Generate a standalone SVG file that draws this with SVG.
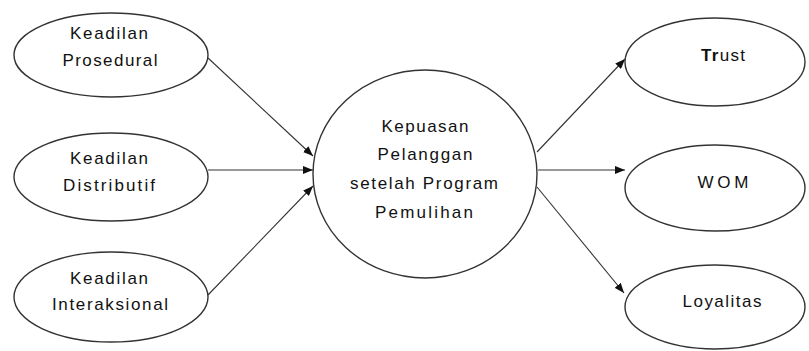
<svg xmlns="http://www.w3.org/2000/svg" width="809" height="351" viewBox="0 0 809 351">
<style>
.n{fill:#fff;stroke:#333;stroke-width:1.4}
.t{font-family:"Liberation Sans",Arial,sans-serif;font-size:17px;fill:#111;text-anchor:middle}
.c{stroke:#333;stroke-width:1.1;fill:none;marker-end:url(#ah)}
</style>
<defs>
<marker id="ah" viewBox="0 0 10 8" refX="10" refY="4" markerWidth="10" markerHeight="8" markerUnits="userSpaceOnUse" orient="auto">
<path d="M0,0 L10,4 L0,8 Z" fill="#111"/>
</marker>
</defs>
<rect width="809" height="351" fill="#fff"/>
<g id="connectors">
<line class="c" x1="208" y1="58" x2="313" y2="156"/>
<line class="c" x1="208" y1="170" x2="313" y2="170"/>
<line class="c" x1="208" y1="295" x2="313" y2="186"/>
<line class="c" x1="537" y1="152" x2="625" y2="59"/>
<line class="c" x1="538" y1="170" x2="625" y2="170"/>
<line class="c" x1="537" y1="187" x2="624" y2="293"/>
</g>
<g id="prosedural">
<ellipse class="n" cx="111" cy="55" rx="97" ry="42"/>
<text class="t" x="109" y="39" textLength="78" lengthAdjust="spacing">Keadilan</text>
<text class="t" x="110" y="66" textLength="95" lengthAdjust="spacing">Prosedural</text>
</g>
<g id="distributif">
<ellipse class="n" cx="111" cy="177" rx="97" ry="44"/>
<text class="t" x="109" y="164" textLength="78" lengthAdjust="spacing">Keadilan</text>
<text class="t" x="109" y="191" textLength="92" lengthAdjust="spacing">Distributif</text>
</g>
<g id="interaksional">
<ellipse class="n" cx="111" cy="297" rx="97" ry="45"/>
<text class="t" x="109" y="284" textLength="78" lengthAdjust="spacing">Keadilan</text>
<text class="t" x="110" y="310" textLength="116" lengthAdjust="spacing">Interaksional</text>
</g>
<g id="kepuasan">
<ellipse class="n" cx="425" cy="174" rx="112" ry="104"/>
<text class="t" x="425" y="132" textLength="87" lengthAdjust="spacing">Kepuasan</text>
<text class="t" x="425" y="160" textLength="95" lengthAdjust="spacing">Pelanggan</text>
<text class="t" x="424" y="189" textLength="148" lengthAdjust="spacing">setelah Program</text>
<text class="t" x="424" y="218" textLength="98" lengthAdjust="spacing">Pemulihan</text>
</g>
<g id="trust">
<ellipse class="n" cx="715" cy="62" rx="90" ry="44"/>
<text class="t" x="723" y="61" textLength="44" lengthAdjust="spacing"><tspan font-weight="bold">Tr</tspan>ust</text>
</g>
<g id="wom">
<ellipse class="n" cx="715" cy="188" rx="90" ry="43"/>
<text class="t" x="723" y="188" textLength="51" lengthAdjust="spacing">WOM</text>
</g>
<g id="loyalitas">
<ellipse class="n" cx="715" cy="307" rx="90" ry="42"/>
<text class="t" x="722" y="307" textLength="79" lengthAdjust="spacing">Loyalitas</text>
</g>
</svg>
